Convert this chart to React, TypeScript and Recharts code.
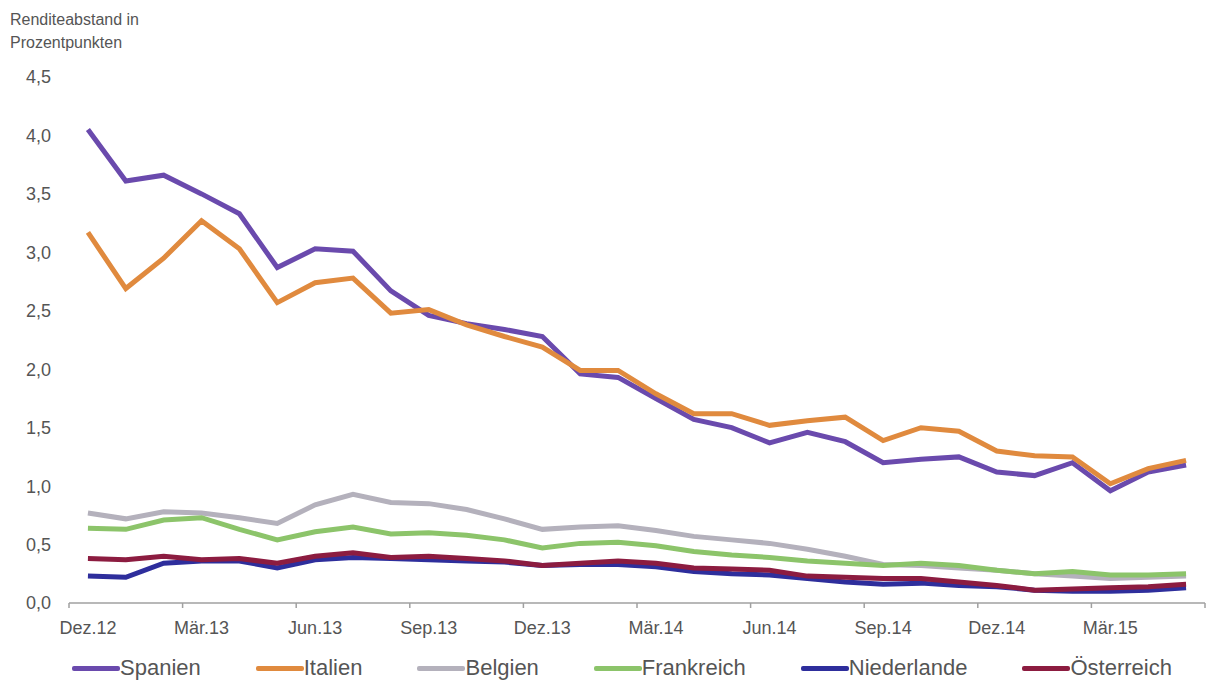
import React from 'react';
import { LineChart, Line, XAxis, YAxis, Legend } from 'recharts';

const months = [
  'Dez.12', 'Jan.13', 'Feb.13', 'Mär.13', 'Apr.13', 'Mai.13', 'Jun.13', 'Jul.13', 'Aug.13', 'Sep.13',
  'Okt.13', 'Nov.13', 'Dez.13', 'Jan.14', 'Feb.14', 'Mär.14', 'Apr.14', 'Mai.14', 'Jun.14', 'Jul.14',
  'Aug.14', 'Sep.14', 'Okt.14', 'Nov.14', 'Dez.14', 'Jan.15', 'Feb.15', 'Mär.15', 'Apr.15', 'Mai.15',
];

const spanien = [4.05, 3.61, 3.66, 3.5, 3.33, 2.87, 3.03, 3.01, 2.67, 2.46, 2.39, 2.34, 2.28, 1.96, 1.93, 1.75, 1.57, 1.5, 1.37, 1.46, 1.38, 1.2, 1.23, 1.25, 1.12, 1.09, 1.2, 0.96, 1.12, 1.18];
const italien = [3.17, 2.69, 2.95, 3.27, 3.03, 2.57, 2.74, 2.78, 2.48, 2.51, 2.38, 2.28, 2.19, 1.99, 1.99, 1.79, 1.62, 1.62, 1.52, 1.56, 1.59, 1.39, 1.5, 1.47, 1.3, 1.26, 1.25, 1.02, 1.15, 1.22];
const belgien = [0.77, 0.72, 0.78, 0.77, 0.73, 0.68, 0.84, 0.93, 0.86, 0.85, 0.8, 0.72, 0.63, 0.65, 0.66, 0.62, 0.57, 0.54, 0.51, 0.46, 0.4, 0.33, 0.32, 0.3, 0.28, 0.25, 0.23, 0.21, 0.22, 0.23];
const frankreich = [0.64, 0.63, 0.71, 0.73, 0.63, 0.54, 0.61, 0.65, 0.59, 0.6, 0.58, 0.54, 0.47, 0.51, 0.52, 0.49, 0.44, 0.41, 0.39, 0.36, 0.34, 0.32, 0.34, 0.32, 0.28, 0.25, 0.27, 0.24, 0.24, 0.25];
const niederlande = [0.23, 0.22, 0.34, 0.36, 0.36, 0.3, 0.37, 0.39, 0.38, 0.37, 0.36, 0.35, 0.32, 0.33, 0.33, 0.31, 0.27, 0.25, 0.24, 0.21, 0.18, 0.16, 0.17, 0.15, 0.14, 0.11, 0.1, 0.1, 0.11, 0.13];
const oesterreich = [0.38, 0.37, 0.4, 0.37, 0.38, 0.34, 0.4, 0.43, 0.39, 0.4, 0.38, 0.36, 0.32, 0.34, 0.36, 0.34, 0.3, 0.29, 0.28, 0.23, 0.22, 0.21, 0.21, 0.18, 0.15, 0.11, 0.12, 0.13, 0.14, 0.16];

const yTicks = [0, 0.5, 1, 1.5, 2, 2.5, 3, 3.5, 4, 4.5];

const series = [
  { key: 'Spanien', color: '#6a4aad', values: spanien },
  { key: 'Italien', color: '#e08a3e', values: italien },
  { key: 'Belgien', color: '#b4b1bc', values: belgien },
  { key: 'Frankreich', color: '#8cc46a', values: frankreich },
  { key: 'Niederlande', color: '#2e2e9c', values: niederlande },
  { key: 'Österreich', color: '#8c1c40', values: oesterreich },
];

const data = months.map((m, i) => {
  const row: Record<string, any> = { month: m };
  series.forEach((s) => { row[s.key] = s.values[i]; });
  return row;
});

const W = 1214;
const H = 690;
const LEFT = 69;
const RIGHT = 1205;
const BAND = (RIGHT - LEFT) / months.length;
const FONT = '"Liberation Sans", Arial, sans-serif';
const TEXT = '#555555';

const MonthTick = (props: any) => {
  const { x, y, payload, index } = props;
  const parts: React.ReactNode[] = [];
  if (index % 3 === 0) {
    parts.push(<line key="t" x1={x - BAND / 2} x2={x - BAND / 2} y1={y} y2={y + 5} stroke="#a0a0a0" strokeWidth={1.5} />);
    parts.push(
      <text key="l" x={x} y={y + 31} textAnchor="middle" fill={TEXT} fontSize={18} fontFamily={FONT}>
        {payload.value}
      </text>
    );
  }
  if (index === months.length - 1) {
    parts.push(<line key="e" x1={x + BAND / 2} x2={x + BAND / 2} y1={y} y2={y + 5} stroke="#a0a0a0" strokeWidth={1.5} />);
  }
  return <g>{parts}</g>;
};

const LegendContent = () => (
  <div style={{ display: 'flex', gap: 55, fontFamily: FONT, fontSize: 22, lineHeight: '24px', color: TEXT, whiteSpace: 'nowrap' }}>
    {series.map((s) => (
      <div key={s.key} style={{ display: 'flex', alignItems: 'center' }}>
        <span style={{ display: 'inline-block', width: 48, height: 5, background: s.color, borderRadius: 2 }} />
        <span>{s.key}</span>
      </div>
    ))}
  </div>
);

export default function App() {
  return (
    <div style={{ position: 'relative', width: W, height: H, margin: -8, background: '#fff' }}>
      <div style={{ position: 'absolute', left: 10, top: 8, fontFamily: FONT, fontSize: 16, color: TEXT, lineHeight: '23px' }}>
        Renditeabstand in
        <br />
        Prozentpunkten
      </div>
      <LineChart width={W} height={H} data={data} margin={{ top: 77, right: W - RIGHT, bottom: 0, left: 0 }}>
        <XAxis
          dataKey="month"
          interval={0}
          padding={{ left: BAND / 2, right: BAND / 2 }}
          tickLine={false}
          tickSize={0}
          tickMargin={0}
          axisLine={{ stroke: '#a0a0a0', strokeWidth: 1.5 }}
          tick={<MonthTick />}
          height={87}
        />
        <YAxis
          domain={[0, 4.5]}
          ticks={yTicks}
          width={LEFT}
          axisLine={false}
          tickLine={false}
          tickSize={0}
          tickMargin={18}
          tickFormatter={(v: number) => v.toFixed(1).replace('.', ',')}
          tick={{ fill: TEXT, fontSize: 18, fontFamily: FONT }}
        />
        {series.map((s) => (
          <Line
            key={s.key}
            dataKey={s.key}
            stroke={s.color}
            strokeWidth={5}
            dot={false}
            type="linear"
            isAnimationActive={false}
          />
        ))}
        <Legend
          layout="horizontal"
          verticalAlign="middle"
          align="center"
          content={<LegendContent />}
          wrapperStyle={{ top: 656, left: 72, width: 'auto' }}
        />
      </LineChart>
    </div>
  );
}
